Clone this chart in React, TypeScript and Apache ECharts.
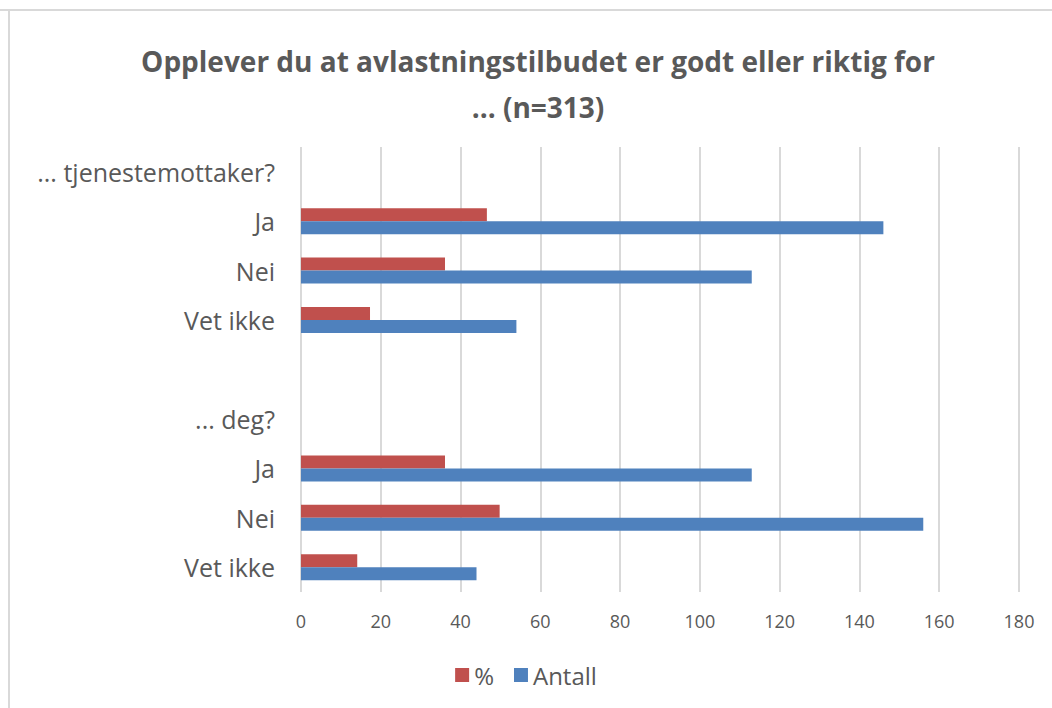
import React, { useEffect, useRef } from "react";
import * as echarts from "echarts";

const categories = [
  "... tjenestemottaker?",
  "Ja",
  "Nei",
  "Vet ikke",
  "",
  "... deg?",
  "Ja",
  "Nei",
  "Vet ikke",
];
const percentValues = [null, 46.6, 36.1, 17.3, null, null, 36.1, 49.8, 14.1];
const antallValues = [null, 146, 113, 54, null, null, 113, 156, 44];
const xTicks = [0, 20, 40, 60, 80, 100, 120, 140, 160, 180];
const seriesNames = ["%", "Antall"];

const FONT = "'Liberation Sans Narrow', 'Open Sans', sans-serif";

export default function App() {
  const ref = useRef<HTMLDivElement>(null);
  useEffect(() => {
    if (!ref.current) return;
    const chart = echarts.init(ref.current, undefined, { renderer: "svg" });
    chart.setOption({
      animation: false,
      backgroundColor: "#ffffff",
      title: {
        text: "Opplever du at avlastningstilbudet er godt eller riktig for\n... (n=313)",
        left: 533,
        textAlign: "center",
        top: 33,
        textStyle: {
          fontFamily: FONT,
          fontSize: 28,
          fontWeight: "bold",
          color: "#595959",
          lineHeight: 46,
        },
      },
      legend: {
        bottom: 16,
        left: "center",
        itemWidth: 14,
        itemHeight: 14,
        itemGap: 20,
        icon: "rect",
        textStyle: { fontFamily: FONT, fontSize: 24, color: "#595959" },
        data: seriesNames,
      },
      grid: { left: 301, right: 33, top: 147, bottom: 116, containLabel: false },
      xAxis: {
        type: "value",
        min: 0,
        max: xTicks[xTicks.length - 1],
        interval: 20,
        axisLine: { show: false },
        axisTick: { show: false },
        axisLabel: {
          fontFamily: FONT,
          fontSize: 18,
          color: "#595959",
          margin: 20,
        },
        splitLine: { lineStyle: { color: "#d9d9d9", width: 2 } },
      },
      yAxis: {
        type: "category",
        inverse: true,
        data: categories,
        axisLine: { show: false },
        axisTick: { show: false },
        axisLabel: {
          fontFamily: FONT,
          fontSize: 25,
          color: "#595959",
          margin: 26,
        },
      },
      series: [
        {
          name: seriesNames[0],
          type: "bar",
          data: percentValues,
          barWidth: 13,
          barGap: "0%",
          itemStyle: { color: "#C0504D" },
        },
        {
          name: seriesNames[1],
          type: "bar",
          data: antallValues,
          barWidth: 13,
          barGap: "0%",
          itemStyle: { color: "#4F81BD" },
        },
      ],
      graphic: [
        {
          type: "line",
          shape: { x1: 0, y1: 10, x2: 1052, y2: 10 },
          style: { stroke: "#d9d9d9", lineWidth: 2 },
        },
        {
          type: "line",
          shape: { x1: 9, y1: 10, x2: 9, y2: 708 },
          style: { stroke: "#d9d9d9", lineWidth: 2 },
        },
      ],
    });
    return () => chart.dispose();
  }, []);
  return (
    <div
      ref={ref}
      style={{ position: "fixed", left: 0, top: 0, width: 1052, height: 708 }}
    />
  );
}
